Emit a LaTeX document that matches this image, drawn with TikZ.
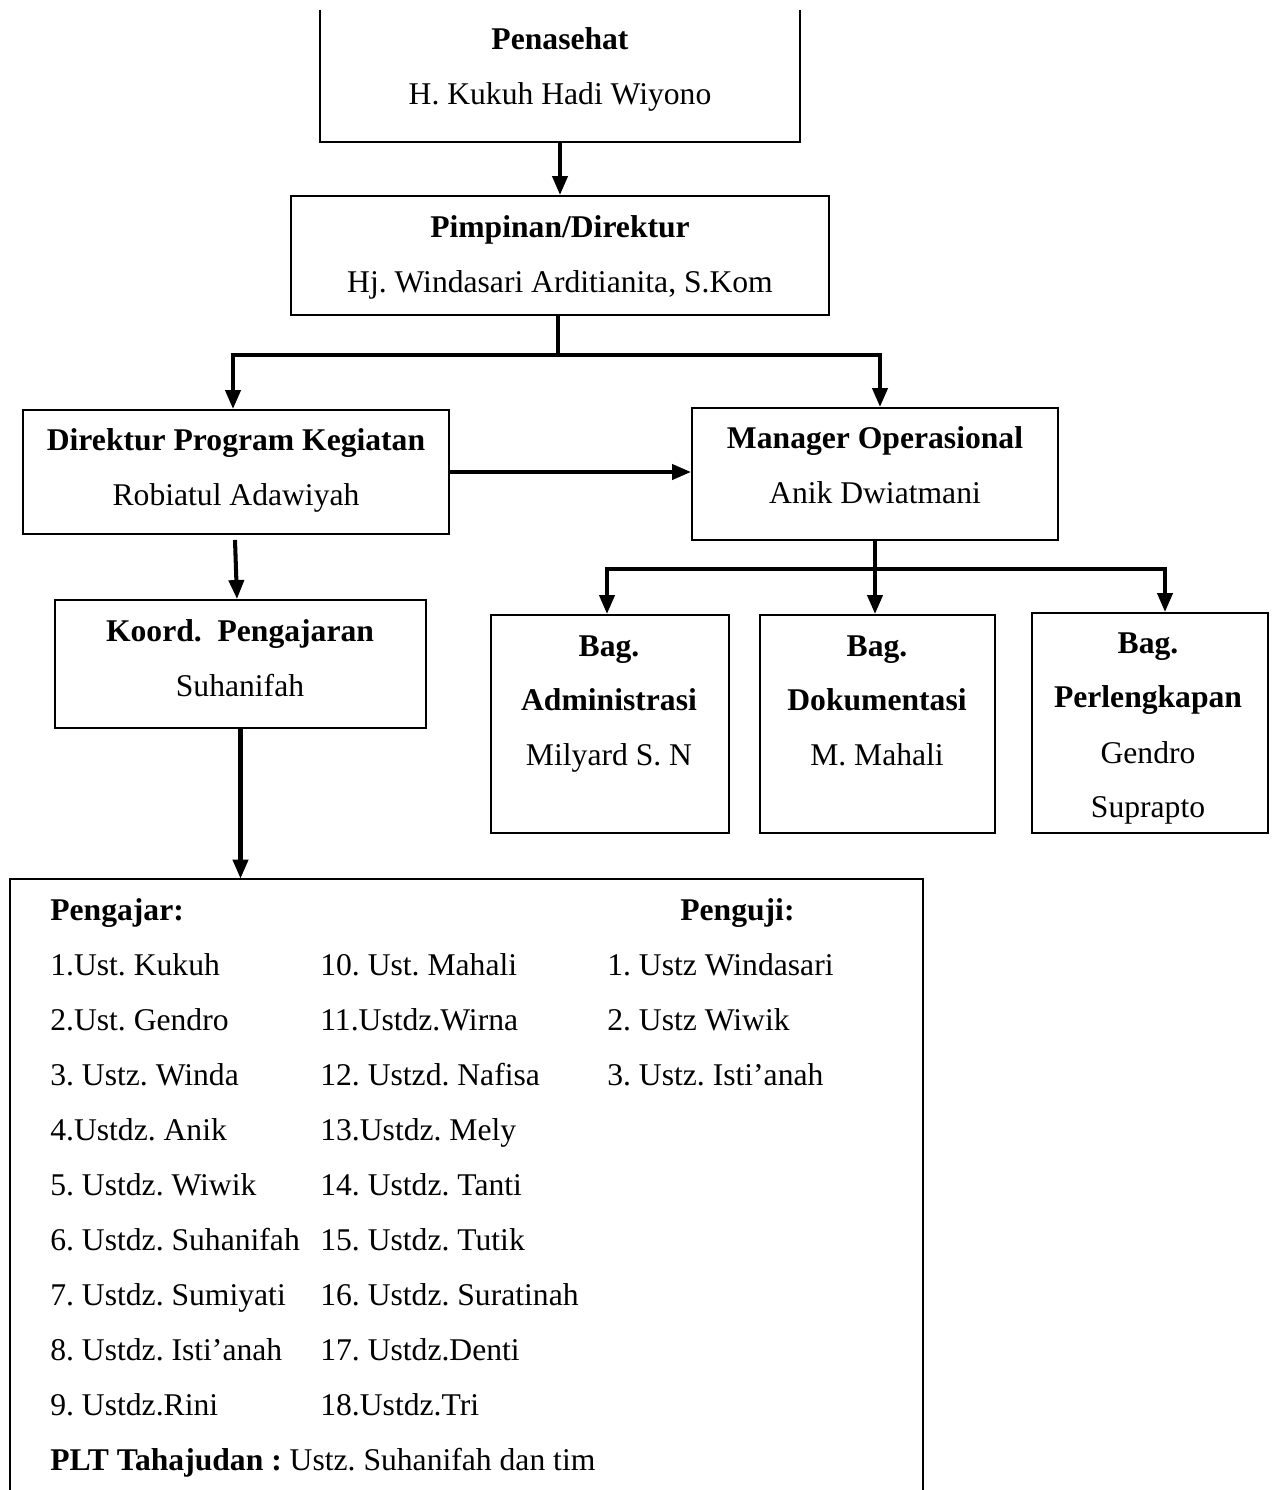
\documentclass[tikz,border=0pt]{standalone}
\usepackage{fontspec}
\setmainfont{Liberation Serif}
\usetikzlibrary{arrows.meta,calc,fit}
\frenchspacing

\begin{document}
\begin{tikzpicture}[x=0.02cm,y=-0.02cm,
    box/.style={draw,line width=1.1pt,inner sep=0pt},
    arr/.style={line width=2.3pt,-{Triangle[width=0.3cm,length=0.38cm]}},
    ttl/.style={anchor=base,font=\fontsize{18}{21}\selectfont\bfseries},
    nm/.style={anchor=base,font=\fontsize{18}{21}\selectfont},
    item/.style={anchor=base west,inner sep=0pt,font=\fontsize{18}{21}\selectfont}]

    \useasboundingbox (0,0) rectangle (1276,1490);
    \clip (0,0) rectangle (1276,1490);

    % boxes
    \node[inner sep=0pt,fit={(320,10) (800,142)}] (pen) {};
    \draw[line width=1.1pt] (pen.north west) -- (pen.south west)
    -- (pen.south east) -- (pen.north east);
    \node[box,fit={(291,196) (829,315)}] (pim) {};
    \node[box,fit={(23,410) (449,534)}] (dir) {};
    \node[box,fit={(692,408) (1058,540)}] (mgr) {};
    \node[box,fit={(55,600) (426,728)}] (koo) {};
    \node[box,fit={(491,615) (729,833)}] (adm) {};
    \node[box,fit={(760,615) (995,833)}] (dok) {};
    \node[box,fit={(1032,613) (1268,833)}] (per) {};
    \node[inner sep=0pt,fit={(10,879) (923,1500)}] (lst) {};
    \draw[line width=1.1pt] (lst.south west) -- (lst.north west)
    -- (lst.north east) -- (lst.south east);

    % texts
    \node[ttl] (penT) at (560,50) {Penasehat};
    \node[nm] (penN) at (560,105) {H. Kukuh Hadi Wiyono};
    \node[ttl] (pimT) at (560,237) {Pimpinan/Direktur};
    \node[nm] (pimN) at (560,292) {Hj. Windasari Arditianita, S.Kom};
    \node[ttl] (dirT) at (236,450) {Direktur Program Kegiatan};
    \node[nm] (dirN) at (236,505) {Robiatul Adawiyah};
    \node[ttl] (mgrT) at (875,448) {Manager Operasional};
    \node[nm] (mgrN) at (875,503) {Anik Dwiatmani};
    \node[ttl] (kooT) at (240,641) {Koord.\ \ Pengajaran};
    \node[nm] (kooN) at (240,696) {Suhanifah};
    \node[ttl] (admT) at (609,656) {Bag.};
    \node[ttl] (admU) at (609,710) {Administrasi};
    \node[nm] (admN) at (609,765) {Milyard S. N};
    \node[ttl] (dokT) at (877,656) {Bag.};
    \node[ttl] (dokU) at (877,710) {Dokumentasi};
    \node[nm] (dokN) at (877,765) {M. Mahali};
    \node[ttl] (perT) at (1148,653) {Bag.};
    \node[ttl] (perU) at (1148,707) {Perlengkapan};
    \node[nm] (perN) at (1148,763) {Gendro};
    \node[nm] (perM) at (1148,817) {Suprapto};

    % list of teachers
    \node[item,font=\fontsize{18}{21}\selectfont\bfseries] (peng) at (50,920) {Pengajar:};
    \node[item,font=\fontsize{18}{21}\selectfont\bfseries] (pguj) at (680,920) {Penguji:};
    \node[item] (p1) at (50,975) {1.Ust. Kukuh};
    \node[item] (p2) at (50,1030) {2.Ust. Gendro};
    \node[item] (p3) at (50,1085) {3. Ustz. Winda};
    \node[item] (p4) at (50,1140) {4.Ustdz. Anik};
    \node[item] (p5) at (50,1195) {5. Ustdz. Wiwik};
    \node[item] (p6) at (50,1250) {6. Ustdz. Suhanifah};
    \node[item] (p7) at (50,1305) {7. Ustdz. Sumiyati};
    \node[item] (p8) at (50,1360) {8. Ustdz. Isti’anah};
    \node[item] (p9) at (50,1415) {9. Ustdz.Rini};
    \node[item] (p10) at (320,975) {10. Ust. Mahali};
    \node[item] (p11) at (320,1030) {11.Ustdz.Wirna};
    \node[item] (p12) at (320,1085) {12. Ustzd. Nafisa};
    \node[item] (p13) at (320,1140) {13.Ustdz. Mely};
    \node[item] (p14) at (320,1195) {14. Ustdz. Tanti};
    \node[item] (p15) at (320,1250) {15. Ustdz. Tutik};
    \node[item] (p16) at (320,1305) {16. Ustdz. Suratinah};
    \node[item] (p17) at (320,1360) {17. Ustdz.Denti};
    \node[item] (p18) at (320,1415) {18.Ustdz.Tri};
    \node[item] (u1) at (607,975) {1. Ustz Windasari};
    \node[item] (u2) at (607,1030) {2. Ustz Wiwik};
    \node[item] (u3) at (607,1085) {3. Ustz. Isti’anah};
    \node[item] (plt) at (50,1470) {\textbf{PLT Tahajudan :} Ustz. Suhanifah dan tim};

    % connectors
    \draw[arr] (pen.south) -- (pim.north);
    \coordinate (split1) at ($(pim.south)+(-2,39)$);
    \draw[line width=2.3pt] (pim.south -| split1) -- (split1);
    \draw[arr] (split1) -| ($(dir.north)+(-3,0)$);
    \draw[arr] (split1) -| ($(mgr.north)+(5,0)$);
    \draw[arr] (dir.east) -- (dir.east -| mgr.west);
    \draw[arr] ($(dir.south)+(-1,5)$) -- ($(koo.north)+(-3.5,0)$);
    \coordinate (split2) at ($(mgr.south)+(0,28)$);
    \draw[arr] (mgr.south) -- (mgr.south |- dok.north);
    \draw[arr] (split2) -| ($(adm.north)+(-3,0)$);
    \draw[arr] (split2) -| ($(per.north)+(15,0)$);
    \draw[arr] (koo.south) -- (koo.south |- lst.north);
\end{tikzpicture}
\end{document}
